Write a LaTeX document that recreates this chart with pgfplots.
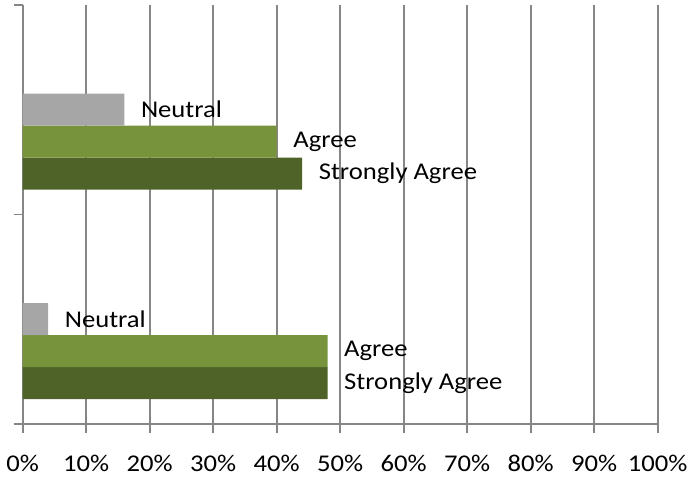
\documentclass[border=0pt]{standalone}
\usepackage{pgfplots}
\pgfplotsset{compat=1.18}
\usepackage{graphicx}
\usepackage{fontspec}
\setmainfont{Carlito}
\definecolor{cneu}{HTML}{A6A6A6}
\definecolor{cagr}{HTML}{77933C}
\definecolor{csag}{HTML}{4F6228}
\definecolor{cgrid}{HTML}{868686}
\newcommand{\wide}[1]{\scalebox{1.11}[1]{#1}}
\begin{document}
\begin{tikzpicture}[x=1bp,y=1bp]
\path[use as bounding box] (0,0) rectangle (700,480);
\begin{axis}[
  at={(22.7bp,56bp)}, anchor=south west,
  scale only axis, width=635bp, height=419bp,
  xbar, bar width=0.1527, bar shift=0pt,
  xmin=0, xmax=100, ymin=-0.5, ymax=1.5,
  xtick={0,10,...,100}, ytick={-0.5,0.5,1.5}, yticklabels={},
  xticklabel={\wide{\pgfmathprintnumber{\tick}\%}},
  /pgf/number format/assume math mode=true,
  axis x line*=bottom, axis y line*=left,
  axis line style={draw=cgrid, line width=1.6bp, -},
  tick align=outside,
  major tick length=9bp,
  tick style={draw=cgrid, line width=1.6bp},
  xmajorgrids, grid style={draw=cgrid, line width=1.6bp},
  font=\fontsize{24bp}{28bp}\selectfont,
  xticklabel style={anchor=base, yshift=-39bp},
  nodes near coords style={anchor=west, inner sep=0pt, xshift=16.5bp, text=black, font=\fontsize{24bp}{28bp}\selectfont},
  clip=false,
]
\addplot[fill=csag, draw=none, nodes near coords={\wide{Strongly Agree}}] coordinates {(48,-0.3054) (44,0.6946)};
\addplot[fill=cagr, draw=none, nodes near coords={\wide{Agree}}] coordinates {(48,-0.1527) (40,0.8473)};
\addplot[fill=cneu, draw=none, nodes near coords={\wide{Neutral}}] coordinates {(4,0) (16,1)};
\end{axis}
\end{tikzpicture}
\end{document}
